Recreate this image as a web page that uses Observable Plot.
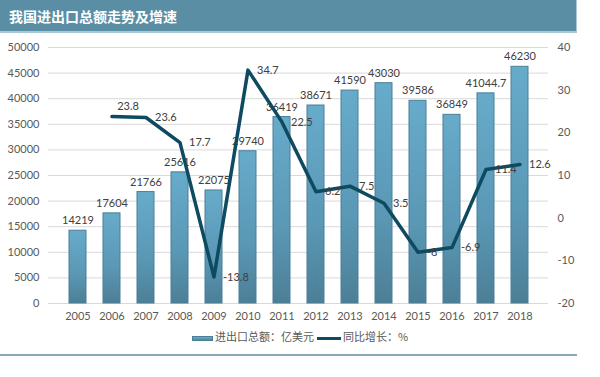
<!DOCTYPE html>
<html><head><meta charset="utf-8">
<script src="https://cdn.jsdelivr.net/npm/d3@7"></script>
<script src="https://cdn.jsdelivr.net/npm/@observablehq/plot@0.6"></script>
<style>
body{margin:0;background:#fff;}
#wrap{position:relative;width:600px;height:377px;overflow:hidden;font-family:Lato,"Noto Sans CJK SC",sans-serif;}
#title{position:absolute;left:0;top:0;width:577px;height:33px;background:#5a8ea5;border-bottom:2px solid #a9c7d5;border-right:1px solid #a9c7d5;color:#fff;font-family:"Noto Sans CJK SC",sans-serif;font-size:14px;font-weight:bold;line-height:33px;padding-left:9px;box-sizing:border-box;}
#chart{position:absolute;left:0;top:0;}
#legend{position:absolute;top:328px;left:0;width:600px;font-family:"Noto Sans CJK SC",sans-serif;font-size:11px;color:#595959;}
.item{position:absolute;top:0;height:16px;line-height:16px;white-space:nowrap;}
.sw{display:inline-block;vertical-align:middle;margin-right:2px;}
#bottomline{position:absolute;left:0;top:354px;width:577px;height:2px;background:#86a9ba;}
</style></head>
<body>
<div id="wrap">
<div id="chart"></div>
<div id="title">我国进出口总额走势及增速</div>
<div id="legend">
 <div class="item" style="left:192px"><span class="sw" style="width:21px;height:5px;background:linear-gradient(#6aaecd,#4f86a0);border:1px solid #4a7f99;box-sizing:border-box;"></span>进出口总额：亿美元</div>
 <div class="item" style="left:317px"><span class="sw" style="width:24px;height:3px;background:#0e4a60;"></span>同比增长：%</div>
</div>
<div id="bottomline"></div>
</div>
<script>
const years = [2005,2006,2007,2008,2009,2010,2011,2012,2013,2014,2015,2016,2017,2018];
const totals = [14219,17604,21766,25616,22075,29740,36419,38671,41590,43030,39586,36849,41044.7,46230];
const totalLabels = ["14219","17604","21766","25616","22075","29740","36419","38671","41590","43030","39586","36849","41044.7","46230"];
const growthYears = [2006,2007,2008,2009,2010,2011,2012,2013,2014,2015,2016,2017,2018];
const growth = [23.8,23.6,17.7,-13.8,34.7,22.5,6.2,7.5,3.5,-8,-6.9,11.4,12.6];
const leftTicks = [0,5000,10000,15000,20000,25000,30000,35000,40000,45000,50000];
const rightTicks = [-20,-10,0,10,20,30,40];

const L0 = 0, L1 = 50000, R0 = -20, R1 = 40;
const toLeft = v => (v - R0) / (R1 - R0) * (L1 - L0) + L0;
const fromLeft = v => Math.round((v - L0) / (L1 - L0) * (R1 - R0) + R0);

const bars = years.map((y, i) => ({year: String(y), value: totals[i], label: totalLabels[i]}));
const line = growthYears.map((y, i) => ({year: String(y), value: toLeft(growth[i]), label: String(growth[i])}));

const chart = Plot.plot({
  width: 600, height: 377,
  marginTop: 47, marginBottom: 74, marginLeft: 48, marginRight: 52,
  style: {fontFamily: "Lato, 'Noto Sans', sans-serif", fontSize: "11px", color: "#595959", background: "transparent"},
  x: {type: "band", domain: years.map(String), padding: 0.5, label: null},
  y: {domain: [L0, L1], label: null},
  marks: [
    Plot.gridY(leftTicks, {stroke: "#d9d9d9", strokeOpacity: 1}),
    Plot.axisY(leftTicks, {anchor: "left", tickSize: 0, tickPadding: 9, tickFormat: d => String(d), fill: "#595959", label: null}),
    Plot.axisY(rightTicks.map(toLeft), {anchor: "right", tickSize: 0, tickPadding: 9, tickFormat: d => String(fromLeft(d)), textAnchor: "start", fill: "#595959", label: null}),
    Plot.axisX({tickSize: 0, tickPadding: 9, fill: "#595959", label: null}),
    Plot.barY(bars, {x: "year", y: "value", fill: "url(#barGrad)", stroke: "#4a7f99", strokeWidth: 1}),
    Plot.text(bars, {x: "year", y: "value", text: "label", dy: -10, fill: "#404040"}),
    Plot.line(line, {x: "year", y: "value", stroke: "#0e4a60", strokeWidth: 3.5, strokeLinejoin: "round"}),
    Plot.text(line.slice(0, 1), {x: "year", y: "value", text: "label", dy: -10, dx: 16, fill: "#404040"}),
    Plot.text(line.slice(1), {x: "year", y: "value", text: "label", dx: 9, textAnchor: "start", fill: "#404040"})
  ]
});

const defs = d3.select(chart).insert("defs", ":first-child");
const g = defs.append("linearGradient").attr("id", "barGrad").attr("x1", 0).attr("y1", 0).attr("x2", 0).attr("y2", 1);
g.append("stop").attr("offset", "0%").attr("stop-color", "#67abca");
g.append("stop").attr("offset", "60%").attr("stop-color", "#5a98b5");
g.append("stop").attr("offset", "100%").attr("stop-color", "#4c7f96");

document.getElementById("chart").appendChild(chart);
</script>
</body></html>
